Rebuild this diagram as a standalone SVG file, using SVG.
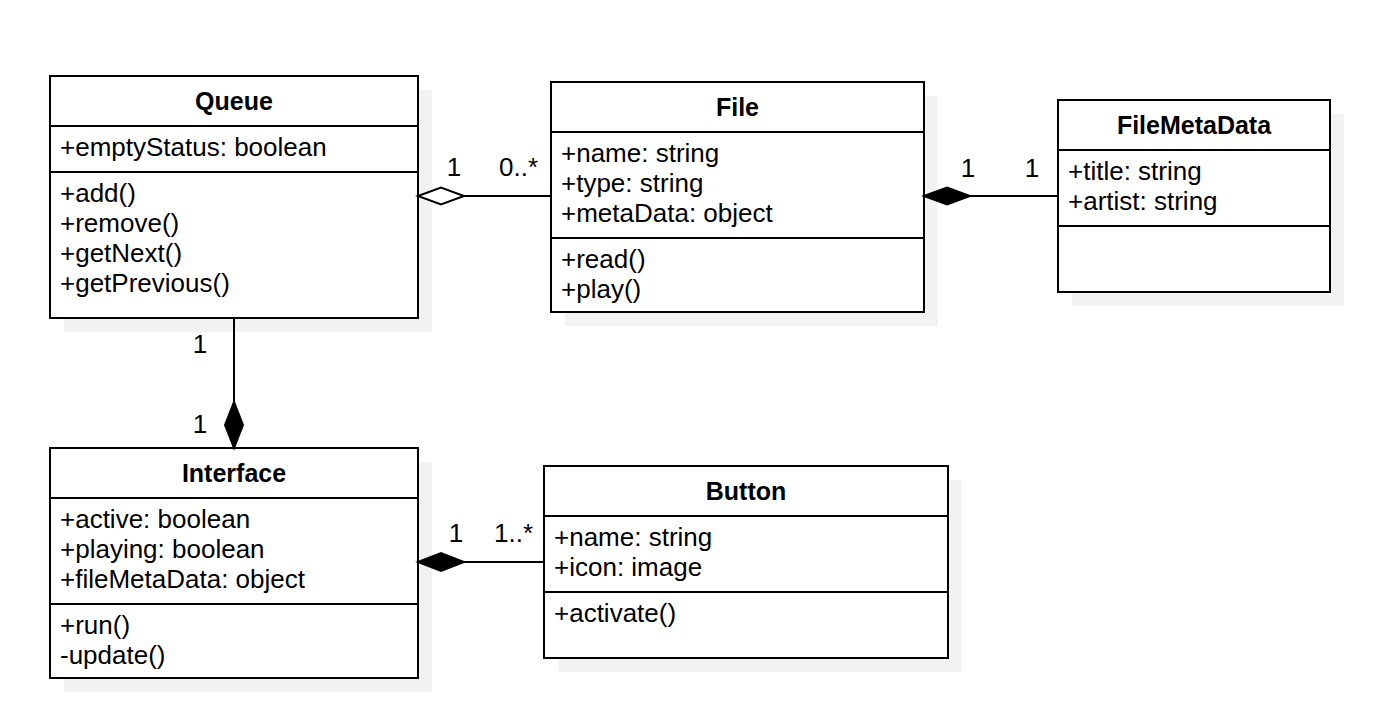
<svg xmlns="http://www.w3.org/2000/svg" width="1380" height="702" viewBox="0 0 1380 702">
<style>
.box{fill:#ffffff;stroke:#000000;stroke-width:2}
.shadow{fill:#f2f2f2;stroke:none}
.sep{stroke:#000000;stroke-width:2}
.title{font-family:"Liberation Sans",Arial,sans-serif;font-size:25px;font-weight:bold;fill:#000;text-anchor:middle}
.attr{font-family:"Liberation Sans",Arial,sans-serif;font-size:26px;fill:#000}
.lbl{font-family:"Liberation Sans",Arial,sans-serif;font-size:26px;fill:#000}
.line{stroke:#000;stroke-width:2;fill:none}
.dfill{fill:#000;stroke:#000;stroke-width:2;stroke-linejoin:miter}
.dhollow{fill:#fff;stroke:#000;stroke-width:2;stroke-linejoin:miter}
</style>
<rect width="1380" height="702" fill="#ffffff"/>
<g id="Queue">
<rect class="shadow" x="64" y="90" width="368" height="242"/>
<rect class="box" x="50" y="76" width="368" height="242"/>
<line class="sep" x1="50" y1="126" x2="418" y2="126"/>
<line class="sep" x1="50" y1="172" x2="418" y2="172"/>
<text class="title" x="234" y="110">Queue</text>
<text class="attr" x="60" y="156">+emptyStatus: boolean</text>
<text class="attr" x="60" y="202">+add()</text>
<text class="attr" x="60" y="232">+remove()</text>
<text class="attr" x="60" y="262">+getNext()</text>
<text class="attr" x="60" y="292">+getPrevious()</text>
</g>
<g id="File">
<rect class="shadow" x="565" y="96" width="373" height="230"/>
<rect class="box" x="551" y="82" width="373" height="230"/>
<line class="sep" x1="551" y1="132" x2="924" y2="132"/>
<line class="sep" x1="551" y1="238" x2="924" y2="238"/>
<text class="title" x="737.5" y="116">File</text>
<text class="attr" x="561" y="162">+name: string</text>
<text class="attr" x="561" y="192">+type: string</text>
<text class="attr" x="561" y="222">+metaData: object</text>
<text class="attr" x="561" y="268">+read()</text>
<text class="attr" x="561" y="298">+play()</text>
</g>
<g id="FileMetaData">
<rect class="shadow" x="1072" y="114" width="272" height="192"/>
<rect class="box" x="1058" y="100" width="272" height="192"/>
<line class="sep" x1="1058" y1="150" x2="1330" y2="150"/>
<line class="sep" x1="1058" y1="226" x2="1330" y2="226"/>
<text class="title" x="1194" y="134">FileMetaData</text>
<text class="attr" x="1068" y="180">+title: string</text>
<text class="attr" x="1068" y="210">+artist: string</text>
</g>
<g id="Interface">
<rect class="shadow" x="64" y="462" width="368" height="230"/>
<rect class="box" x="50" y="448" width="368" height="230"/>
<line class="sep" x1="50" y1="498" x2="418" y2="498"/>
<line class="sep" x1="50" y1="604" x2="418" y2="604"/>
<text class="title" x="234" y="482">Interface</text>
<text class="attr" x="60" y="528">+active: boolean</text>
<text class="attr" x="60" y="558">+playing: boolean</text>
<text class="attr" x="60" y="588">+fileMetaData: object</text>
<text class="attr" x="60" y="634">+run()</text>
<text class="attr" x="60" y="664">-update()</text>
</g>
<g id="Button">
<rect class="shadow" x="558" y="480" width="404" height="192"/>
<rect class="box" x="544" y="466" width="404" height="192"/>
<line class="sep" x1="544" y1="516" x2="948" y2="516"/>
<line class="sep" x1="544" y1="592" x2="948" y2="592"/>
<text class="title" x="746" y="500">Button</text>
<text class="attr" x="554" y="546">+name: string</text>
<text class="attr" x="554" y="576">+icon: image</text>
<text class="attr" x="554" y="622">+activate()</text>
</g>
<g id="connectors">
<line class="line" x1="464" y1="196" x2="551" y2="196"/>
<path class="dhollow" d="M418,196 L441,187.5 L464,196 L441,204.5 Z"/>
<text class="lbl" x="454" y="176" text-anchor="middle">1</text>
<text class="lbl" x="499" y="176">0..*</text>
<line class="line" x1="970" y1="196" x2="1058" y2="196"/>
<path class="dfill" d="M924,196 L947,187.5 L970,196 L947,204.5 Z"/>
<text class="lbl" x="968" y="177" text-anchor="middle">1</text>
<text class="lbl" x="1032" y="177" text-anchor="middle">1</text>
<line class="line" x1="234" y1="318" x2="234" y2="402"/>
<path class="dfill" d="M234,448 L225,425 L234,402 L243,425 Z"/>
<text class="lbl" x="200" y="353" text-anchor="middle">1</text>
<text class="lbl" x="200" y="433" text-anchor="middle">1</text>
<line class="line" x1="464" y1="562" x2="544" y2="562"/>
<path class="dfill" d="M418,562 L441,553 L464,562 L441,571 Z"/>
<text class="lbl" x="456" y="542" text-anchor="middle">1</text>
<text class="lbl" x="494" y="542">1..*</text>
</g>
</svg>
